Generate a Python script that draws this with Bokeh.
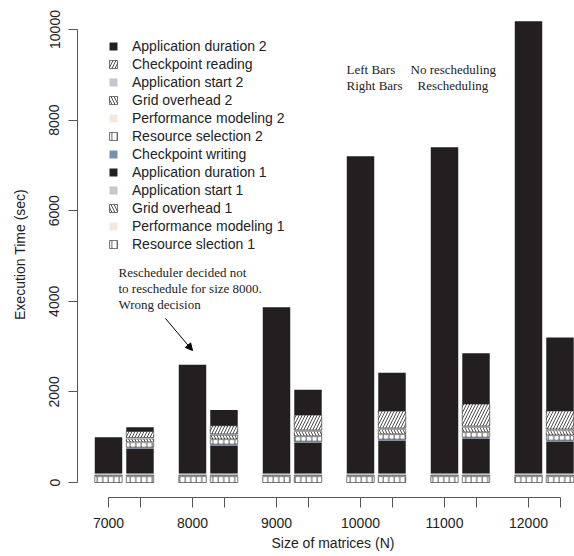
import numpy as np
from bokeh.plotting import figure
from bokeh.models import (ColumnDataSource, Range1d, FixedTicker, Legend, LegendItem,
                          Label, Arrow, NormalHead, Title)
from bokeh.embed import file_html
from bokeh.resources import INLINE

# ---------------- data ----------------
sizes = [7000, 8000, 9000, 10000, 11000, 12000]

# Left bars: no rescheduling (bottom -> top)
left_resource_selection_1 = [130, 130, 130, 130, 130, 130]
left_performance_modeling_1 = [15, 15, 15, 15, 15, 15]
left_grid_overhead_1 = [15, 15, 15, 15, 15, 15]
left_application_start_1 = [40, 40, 40, 40, 40, 40]
left_application_duration_1 = [800, 2400, 3670, 7000, 7200, 9980]

# Right bars: rescheduling (bottom -> top)
right_resource_selection_1 = [130, 130, 130, 130, 130, 130]
right_performance_modeling_1 = [15, 15, 15, 15, 15, 15]
right_grid_overhead_1 = [15, 15, 15, 15, 15, 15]
right_application_start_1 = [40, 40, 40, 40, 40, 40]
right_application_duration_1 = [550, 617, 683, 727, 771, 705]
right_checkpoint_writing = [30, 30, 30, 30, 30, 30]
right_resource_selection_2 = [100, 100, 100, 100, 100, 100]
right_performance_modeling_2 = [15, 15, 15, 15, 15, 15]
right_grid_overhead_2 = [70, 80, 100, 100, 100, 100]
right_application_start_2 = [30, 30, 30, 30, 30, 30]
right_checkpoint_reading = [130, 180, 330, 375, 485, 400]
right_application_duration_2 = [95, 350, 560, 845, 1120, 1620]

# ---------------- geometry helpers (pixel -> data) ----------------
X0_PX, XPX_PER_UNIT = 108.0, 0.084     # x=7000 at px 108
Y0_PX, YPX_PER_UNIT = 482.0, 0.0453    # y=0 at px 482


def xd(px):
    return 7000 + (px - X0_PX) / XPX_PER_UNIT


def yd(py):
    return (Y0_PX - py) / YPX_PER_UNIT


RIGHT_OFFSET = 375
BAR_W = 327

W, H = 574, 556
FRAME_L, FRAME_R, FRAME_T, FRAME_B = 77, 574, 11, 497

p = figure(width=W, height=H, output_backend="svg", toolbar_location=None,
           x_range=Range1d(xd(FRAME_L), xd(FRAME_R)),
           y_range=Range1d(yd(FRAME_B), yd(FRAME_T)),
           min_border_left=FRAME_L, min_border_right=W - FRAME_R,
           min_border_top=FRAME_T, min_border_bottom=H - FRAME_B)
p.frame_width = FRAME_R - FRAME_L
p.frame_height = FRAME_B - FRAME_T
p.outline_line_color = None
p.xgrid.visible = False
p.ygrid.visible = False
p.background_fill_color = "white"
p.border_fill_color = "white"

BLACK = "#231f20"
styles = {
    "rs": dict(fill_color="white", hatch_pattern="|", hatch_color="#222222", hatch_scale=5.5,
               hatch_weight=0.8, line_color="#222222", line_width=0.6),
    "pm": dict(fill_color="#f2e9dc", line_color=None),
    "go": dict(fill_color="white", hatch_pattern="\\", hatch_color="#222222", hatch_scale=6,
               hatch_weight=0.8, line_color="#222222", line_width=0.6),
    "as": dict(fill_color="#c3c7ce", line_color=None),
    "ad": dict(fill_color=BLACK, line_color=None),
    "cw": dict(fill_color="#7891aa", line_color=None),
    "cr": dict(fill_color="white", hatch_pattern="/", hatch_color="#222222", hatch_scale=6,
               hatch_weight=0.8, line_color="#222222", line_width=0.6),
}

left_parts = [("rs", left_resource_selection_1), ("pm", left_performance_modeling_1),
              ("go", left_grid_overhead_1), ("as", left_application_start_1),
              ("ad", left_application_duration_1)]
right_parts = [("rs", right_resource_selection_1), ("pm", right_performance_modeling_1),
               ("go", right_grid_overhead_1), ("as", right_application_start_1),
               ("ad", right_application_duration_1), ("cw", right_checkpoint_writing),
               ("rs", right_resource_selection_2), ("pm", right_performance_modeling_2),
               ("go", right_grid_overhead_2), ("as", right_application_start_2),
               ("cr", right_checkpoint_reading), ("ad", right_application_duration_2)]


def draw_stack(xs, parts):
    bottom = np.zeros(len(xs))
    rends = []
    for key, vals in parts:
        vals = np.array(vals, dtype=float)
        src = ColumnDataSource(dict(x=xs, bottom=bottom.copy(), top=bottom + vals))
        r = p.vbar(x="x", bottom="bottom", top="top", width=BAR_W, source=src, **styles[key])
        rends.append(r)
        bottom = bottom + vals
    return rends


left_x = list(sizes)
right_x = [s + RIGHT_OFFSET for s in sizes]
lr = draw_stack(left_x, left_parts)
rr = draw_stack(right_x, right_parts)

# ---------------- axes ----------------
FONT = "Liberation Sans"
FS = "14px"
AX_COLOR = "#555555"
TXT = "#222222"

xa = p.xaxis[0]
xa.ticker = FixedTicker(ticks=left_x, minor_ticks=right_x)
xa.bounds = (left_x[0], right_x[-1])
xa.major_tick_out = 10
xa.major_tick_in = 0
xa.minor_tick_out = 10
xa.minor_tick_in = 0
xa.axis_line_color = AX_COLOR
xa.major_tick_line_color = AX_COLOR
xa.minor_tick_line_color = AX_COLOR
xa.major_label_text_font = FONT
xa.major_label_text_font_size = FS
xa.major_label_text_color = TXT
xa.major_label_standoff = 10

ya = p.yaxis[0]
ya.ticker = FixedTicker(ticks=[0, 2000, 4000, 6000, 8000, 10000], minor_ticks=[])
ya.bounds = (0, 10000)
ya.major_tick_out = 9
ya.major_tick_in = 0
ya.minor_tick_out = 0
ya.axis_line_color = AX_COLOR
ya.major_tick_line_color = AX_COLOR
ya.major_label_orientation = "vertical"
ya.major_label_text_font = FONT
ya.major_label_text_font_size = FS
ya.major_label_text_color = TXT
ya.major_label_standoff = 9
ya.axis_label = "Execution Time (sec)"
ya.axis_label_text_font = FONT
ya.axis_label_text_font_size = FS
ya.axis_label_text_font_style = "normal"
ya.axis_label_text_color = TXT
ya.axis_label_standoff = 19

p.add_layout(Title(text="Size of matrices (N)", align="left", offset=271 - FRAME_L,
                   text_font=FONT, text_font_size=FS, text_font_style="normal",
                   text_color=TXT, standoff=4), "below")

# ---------------- legend ----------------
items = [
    ("Application duration 2", rr[11]),
    ("Checkpoint reading", rr[10]),
    ("Application start 2", rr[9]),
    ("Grid overhead 2", rr[8]),
    ("Performance modeling 2", rr[7]),
    ("Resource selection 2", rr[6]),
    ("Checkpoint writing", rr[5]),
    ("Application duration 1", rr[4]),
    ("Application start 1", rr[3]),
    ("Grid overhead 1", rr[2]),
    ("Performance modeling 1", rr[1]),
    ("Resource slection 1", rr[0]),
]
legend = Legend(items=[LegendItem(label=t, renderers=[r]) for t, r in items],
                location=(31, 245), border_line_color=None, background_fill_alpha=0,
                padding=0, margin=0, spacing=2, label_height=15, glyph_height=10,
                glyph_width=10, label_standoff=14, label_text_font=FONT,
                label_text_font_size=FS, label_text_color=TXT)
p.add_layout(legend)

# ---------------- annotations ----------------
SERIF = "Liberation Serif"


def note(px, py, text, align="left"):
    p.add_layout(Label(x=xd(px), y=yd(py), text=text, text_font=SERIF, text_font_size="13px",
                       text_color=TXT, text_align=align, text_baseline="middle"))


note(346, 69, "Left Bars")
note(410, 69, "No rescheduling")
note(346, 85, "Right Bars")
note(417, 85, "Rescheduling")
note(118, 272, "Rescheduler decided not")
note(118, 288, "to reschedule for size 8000.")
note(118, 304, "Wrong decision")

p.add_layout(Arrow(end=NormalHead(size=7, fill_color="black", line_color="black", line_width=1),
                   x_start=xd(165), y_start=yd(318), x_end=xd(192), y_end=yd(350),
                   line_color="black", line_width=1))

open("out.html", "w").write(file_html(p, INLINE))
